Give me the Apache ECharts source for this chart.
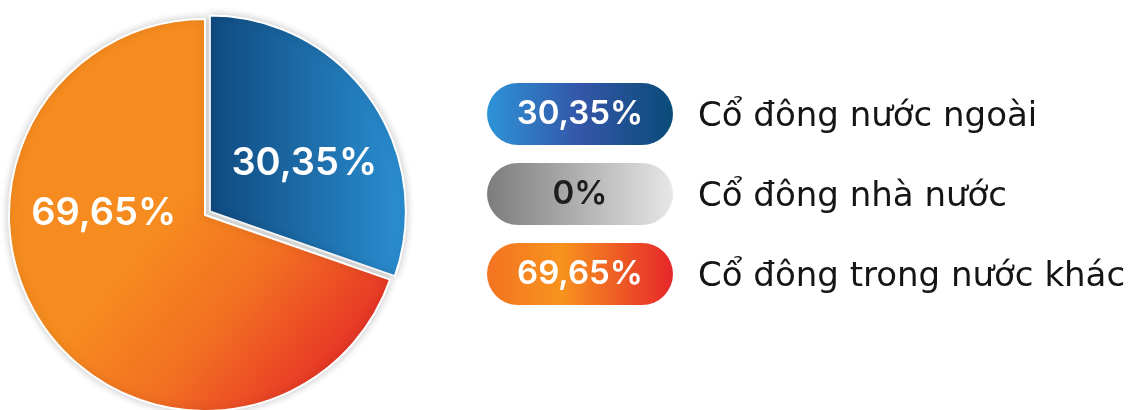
<!DOCTYPE html>
<html>
<head>
<meta charset="utf-8">
<script src="https://cdn.jsdelivr.net/npm/echarts@6/dist/echarts.min.js"></script>
<style>
  html, body { margin: 0; padding: 0; background: #fff; }
  #main { width: 1147px; height: 410px; }
</style>
</head>
<body>
<div id="main"></div>
<script>
// shareholder structure data
var categories = ['Cổ đông nước ngoài', 'Cổ đông nhà nước', 'Cổ đông trong nước khác'];
var shares = [30.35, 0, 69.65];
var shareLabels = ['30,35%', '0%', '69,65%'];

function grad(x2, y2, stops) {
  return new echarts.graphic.LinearGradient(0, 0, x2, y2, stops.map(function (c, i) {
    return { offset: c[0], color: c[1] };
  }));
}

var sliceColors = [
  grad(1, 0, [[0, '#0f4a80'], [1, '#2b8fd2']]),
  '#9a9a9a',
  new echarts.graphic.LinearGradient(0.45, 0.45, 0.95, 0.85, [
    { offset: 0, color: '#f68c1f' },
    { offset: 0.45, color: '#f26f22' },
    { offset: 1, color: '#e52b27' }
  ])
];

var pillColors = [
  grad(1, 0, [[0, '#2d93d7'], [0.5, '#3456a8'], [1, '#0a4b79']]),
  grad(1, 0, [[0, '#7d7b7b'], [1, '#e6e7e8']]),
  grad(1, 0, [[0, '#f37321'], [0.4, '#f7931e'], [1, '#e6262a']])
];
var pillText = ['#ffffff', '#1d1d1d', '#ffffff'];

// manual nudges for the slice labels
var labelShift = [[12, 11], [0, 0], [-19, -60]];

var myChart = echarts.init(document.getElementById('main'));

var rich = {
  n: {
    fontFamily: 'DejaVu Sans',
    fontSize: 34,
    color: '#151515',
    padding: [6, 0, 0, 25]
  }
};
pillColors.forEach(function (c, i) {
  rich['p' + i] = {
    width: 186,
    height: 62,
    borderRadius: 31,
    align: 'center',
    backgroundColor: c,
    color: pillText[i],
    fontFamily: 'Inter',
    fontSize: 33,
    fontWeight: 600
  };
});

var option = {
  animation: false,
  legend: {
    orient: 'vertical',
    left: 477,
    top: 78,
    itemGap: 18,
    icon: 'none',
    itemWidth: 0,
    selectedMode: false,
    data: categories,
    formatter: function (name) {
      var i = categories.indexOf(name);
      return '{p' + i + '|' + shareLabels[i] + '}{n|' + name + '}';
    },
    textStyle: { rich: rich }
  },
  series: [{
    type: 'pie',
    center: [205, 215],
    radius: 196,
    startAngle: 90,
    clockwise: true,
    selectedMode: 'single',
    selectedOffset: 6,
    emphasis: { disabled: true },
    itemStyle: {
      borderColor: '#ffffff',
      borderWidth: 2,
      shadowBlur: 8,
      shadowColor: 'rgba(0,0,0,0.22)'
    },
    label: {
      position: 'inside',
      color: '#ffffff',
      fontFamily: 'Inter',
      fontSize: 38,
      fontWeight: 600,
      formatter: function (p) { return shareLabels[p.dataIndex]; }
    },
    labelLine: { show: false },
    labelLayout: function (p) {
      return { dx: labelShift[p.dataIndex][0], dy: labelShift[p.dataIndex][1] };
    },
    data: categories.map(function (name, i) {
      return {
        name: name,
        value: shares[i],
        selected: i === 0,
        itemStyle: { color: sliceColors[i], borderWidth: shares[i] === 0 ? 0 : 2 },
        label: { show: shares[i] !== 0 }
      };
    })
  }]
};

myChart.setOption(option);
</script>
</body>
</html>
